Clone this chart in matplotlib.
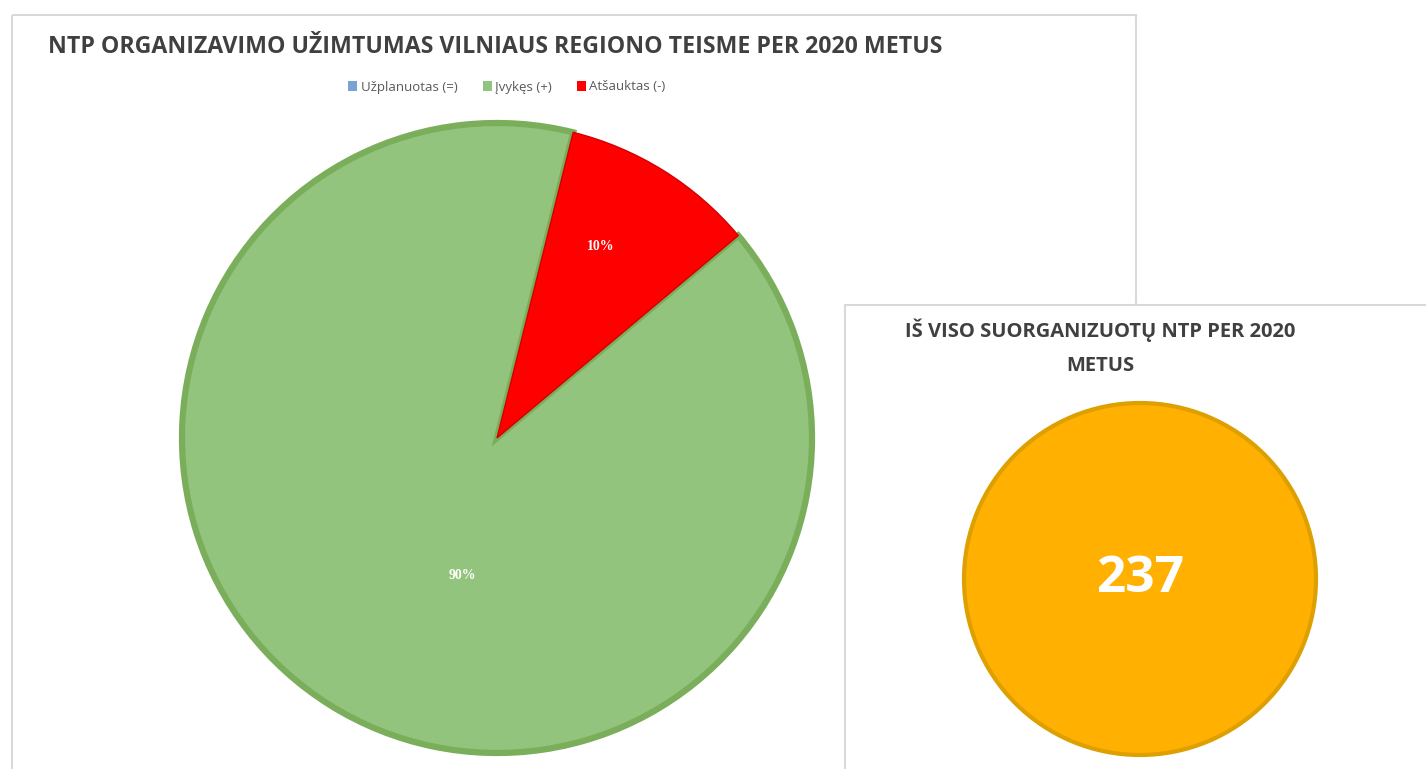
import matplotlib
matplotlib.use("Agg")
import matplotlib.pyplot as plt
from matplotlib.patches import Rectangle, Patch
import numpy as np

# ---------------- data ----------------
title_main = "NTP ORGANIZAVIMO UŽIMTUMAS VILNIAUS REGIONO TEISME PER 2020 METUS"
categories = ["Užplanuotas (=)", "Įvykęs (+)", "Atšauktas (-)"]
shares = [0, 90, 10]
title_total_lines = ["IŠ VISO SUORGANIZUOTŲ NTP PER 2020", "METUS"]
total_value = [237]

# ---------------- style ----------------
colors = ["#7BA2D4", "#93C47D", "#FF0000"]
edge_colors = ["#7BA2D4", "#7AAE5B", "#D40000"]
orange = "#FFB000"
orange_edge = "#DDA000"
title_color = "#404040"
legend_color = "#595959"
border = "#D9D9D9"
FONT = "Open Sans"

W, H, DPI = 1426, 769, 100
fig = plt.figure(figsize=(W / DPI, H / DPI), dpi=DPI)
fig.patch.set_facecolor("white")
renderer = fig.canvas.get_renderer()


def fit_text(x, y, s, target_w, **kw):
    t = fig.text(x / W, 1 - y / H, s, fontsize=20, **kw)
    bb = t.get_window_extent(renderer)
    t.set_fontsize(20 * target_w / bb.width)
    return t


# background panels
bg = fig.add_axes([0, 0, 1, 1])
bg.set_xlim(0, W)
bg.set_ylim(H, 0)
bg.axis("off")
bg.add_patch(Rectangle((12, 15), 1136 - 12, H + 40, fill=False,
                       edgecolor=border, lw=1.5, zorder=1))
bg.add_patch(Rectangle((845, 305), W, H, facecolor="white",
                       edgecolor=border, lw=1.5, zorder=2))

# main title
fit_text(48, 47, title_main, 892, ha="left", va="center",
         fontweight="bold", color=title_color, family=FONT)

# pie
cx, cy, r = 497, 438, 315
lim = 1.06
s = 2 * r * lim
ax = fig.add_axes([(cx - r * lim) / W, 1 - (cy + r * lim) / H, s / W, s / H])
wedges, texts, autotexts = ax.pie(
    shares, colors=colors, startangle=40, counterclock=False,
    autopct=lambda p: f"{p:.0f}%" if p > 0 else "", pctdistance=0.69,
    wedgeprops=dict(linewidth=4.5),
    textprops=dict(color="white", fontweight="bold",
                   family="Liberation Serif", fontsize=10))
for w, ec, v in zip(wedges, edge_colors, shares):
    w.set_edgecolor(ec)
    if v == 0:
        w.set_linewidth(0)
wedges[2].set_linewidth(1.0)
label_pos = {1: (256, 0.45), 2: (61.5, 0.69)}
for i, (a, d) in label_pos.items():
    ang = np.deg2rad(a)
    autotexts[i].set_position((d * np.cos(ang), d * np.sin(ang)))
ax.set_xlim(-lim, lim)
ax.set_ylim(-lim, lim)
ax.set_aspect("equal")
ax.axis("off")

# legend
handles = [Patch(facecolor=c, edgecolor="none") for c in colors]
fig.legend(handles, categories, loc="center", bbox_to_anchor=(507 / W, 1 - 87 / H),
           ncol=3, frameon=False, handlelength=0.7, handleheight=0.7,
           handletextpad=0.25, columnspacing=1.9, labelcolor=legend_color,
           prop=dict(family=FONT, size=9.5))

# second panel title
t1 = fit_text(1100, 330, title_total_lines[0], 390, ha="center", va="center",
              fontweight="bold", color=title_color, family=FONT)
fig.text(1100 / W, 1 - 366 / H, title_total_lines[1], ha="center", va="center",
         fontweight="bold", color=title_color, family=FONT,
         fontsize=t1.get_fontsize())

# orange total circle
ocx, ocy, orad = 1140, 579, 176
lim2 = 1.05
s2 = 2 * orad * lim2
ax2 = fig.add_axes([(ocx - orad * lim2) / W, 1 - (ocy + orad * lim2) / H, s2 / W, s2 / H])
ax2.pie(total_value, colors=[orange], startangle=90,
        wedgeprops=dict(linewidth=3, edgecolor=orange_edge))
ax2.text(0, 0, f"{total_value[0]}", ha="center", va="center", color="white",
         fontsize=37, fontweight="bold", family=FONT)
ax2.set_xlim(-lim2, lim2)
ax2.set_ylim(-lim2, lim2)
ax2.set_aspect("equal")
ax2.axis("off")

fig.savefig("out.png", dpi=DPI, facecolor="white")
